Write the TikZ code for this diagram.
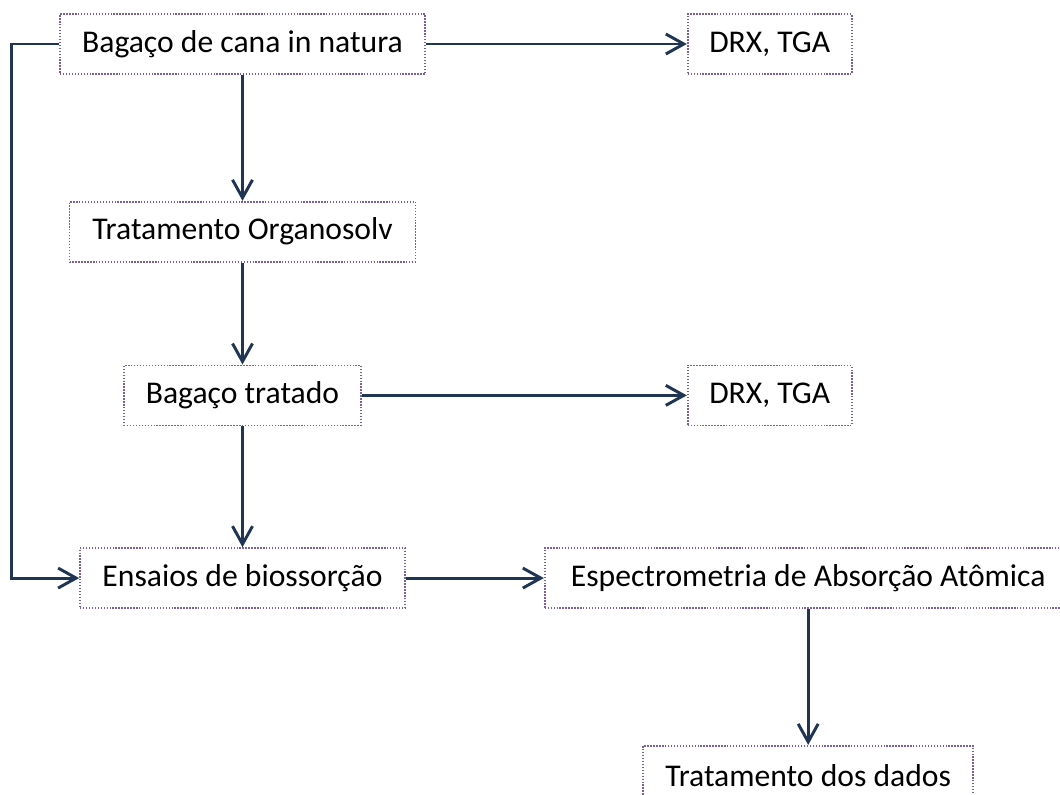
\documentclass[tikz,border=0pt]{standalone}
\usepackage{fontspec}
\setmainfont{Carlito}
\usepackage{tikz}
\usetikzlibrary{arrows.meta,positioning,calc}
\definecolor{boxline}{HTML}{7A5F9E}
\definecolor{arrowline}{HTML}{1F3553}
\tikzset{
    block/.style={
        rectangle,
        draw=boxline,
        line width=1.2pt,
        dash pattern=on 1pt off 1.1pt,
        align=center,
        inner sep=0pt,
        minimum height=1.5cm,
        font=\fontsize{22.5}{27}\selectfont % Calibri-like text size
    },
    flow/.style={
        draw=arrowline,
        line width=2.1pt,
        -{Straight Barb[length=4.5mm,width=5mm]}
    }
}
\begin{document}
\begin{tikzpicture}
    \useasboundingbox (0,0) rectangle (26.5,-19.85);
    \node (natura) [block, minimum width=9.125cm] at (6.0625,-1.1) {Bagaço de cana in natura};
    \node (drxa) [block, minimum width=4.1cm, right=6.525cm of natura] {DRX, TGA};
    \node (organo) [block, minimum width=8.65cm, below=3.15cm of natura] {Tratamento Organosolv};
    \node (tratado) [block, minimum width=5.925cm, below=2.55cm of organo] {Bagaço tratado};
    \node (drxb) [block, minimum width=4.1cm] at (drxa |- tratado) {DRX, TGA};
    \node (ensaios) [block, minimum width=8.125cm, below=3.025cm of tratado] {Ensaios de biossorção};
    \node (espectro) [block, minimum width=13.175cm, right=3.45cm of ensaios] {Espectrometria de Absorção Atômica};
    \node (dados) [block, minimum width=8.25cm, below=3.4cm of espectro] {Tratamento dos dados};

    \draw [flow] (natura) -- (drxa);
    \draw [flow] (natura) -- (organo);
    \draw [flow] (organo) -- (tratado);
    \draw [flow] (tratado) -- (drxb);
    \draw [flow] (tratado) -- (ensaios);
    \draw [flow] (ensaios) -- (espectro);
    \draw [flow] (espectro) -- (dados);
    \draw [flow] (natura.west) -- ++(-1.2cm,0) |- (ensaios.west);
\end{tikzpicture}
\end{document}
